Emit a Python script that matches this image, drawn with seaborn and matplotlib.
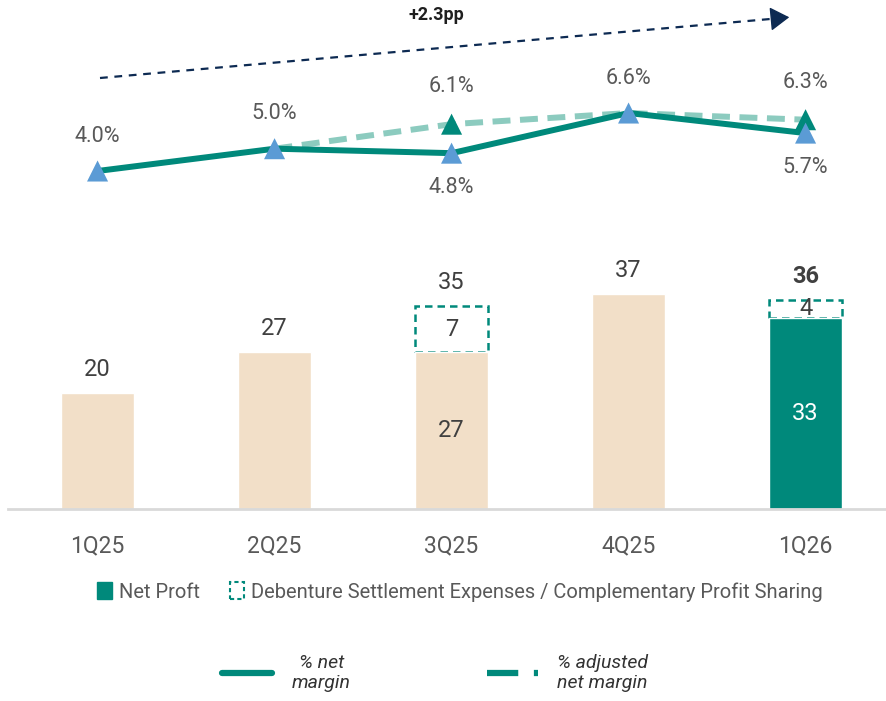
import matplotlib
matplotlib.use("Agg")
import matplotlib.pyplot as plt
import seaborn as sns
import numpy as np
import pandas as pd
from matplotlib.patches import Patch
from matplotlib.lines import Line2D

# ---------------- data ----------------
quarters = ["1Q25", "2Q25", "3Q25", "4Q25", "1Q26"]
net_profit = [20, 27, 27, 37, 33]
total_profit = [20, 27, 35, 37, 36]
adjustment = [np.nan, np.nan, 7, np.nan, 4]
net_margin = [4.0, 5.0, 4.8, 6.6, 5.7]
adj_margin = [np.nan, 5.0, 6.1, 6.6, 6.3]
growth_label = "+2.3pp"

# ---------------- style ----------------
TEAL = "#00897B"
LIGHT_TEAL = "#8CCBBF"
BEIGE = "#F2DFC8"
BLUE = "#5B9BD5"
NAVY = "#0D2A52"
GRAY = "#595959"
bar_colors = [BEIGE, BEIGE, BEIGE, BEIGE, TEAL]

sns.set_theme(style="white")
plt.rcParams["font.family"] = ["Roboto", "DejaVu Sans"]

W, H = 887, 701
fig = plt.figure(figsize=(W / 100, H / 100), dpi=100)


def fx(px):
    return px / W


def fy(py):
    return 1 - py / H


XLIM = (-0.506, 4.46)
BW = 0.41

# ---------------- bars ----------------
ax = fig.add_axes([fx(8), fy(509), fx(887) - fx(8), fy(260) - fy(509)])
df = pd.DataFrame({"q": quarters, "v": net_profit})
sns.barplot(data=df, x="q", y="v", hue="q", palette=bar_colors, width=BW,
            saturation=1, legend=False, ax=ax, zorder=2)
xs = np.arange(len(quarters))
for i in xs:
    if not np.isnan(adjustment[i]):
        ax.bar(i, total_profit[i] - net_profit[i], bottom=net_profit[i], width=BW,
               facecolor="white", edgecolor=TEAL, linewidth=1.8,
               linestyle=(0, (3, 2)), zorder=1)
        ax.text(i, (total_profit[i] + net_profit[i]) / 2, f"{adjustment[i]:.0f}",
                ha="center", va="center", fontsize=17, color="#404040", zorder=3)
        inner_color = "white" if bar_colors[i] == TEAL else "#404040"
        ax.text(i, net_profit[i] / 2, f"{net_profit[i]}", ha="center", va="center",
                fontsize=17, color=inner_color, zorder=3)
    bold = i == len(quarters) - 1
    ax.annotate(f"{total_profit[i]}", (i, total_profit[i]), xytext=(0, 17),
                textcoords="offset points", ha="center", va="center", fontsize=17,
                color="#404040", fontweight="bold" if bold else "normal")

ax.set_xlim(*XLIM)
ax.set_ylim(0, 42.93)
ax.set_yticks([])
ax.set_xlabel("")
ax.set_ylabel("")
for s in ["top", "left", "right"]:
    ax.spines[s].set_visible(False)
ax.spines["bottom"].set_color("#D9D9D9")
ax.spines["bottom"].set_linewidth(2)
ax.tick_params(axis="x", length=0, pad=18, labelsize=16.5, labelcolor=GRAY)
ax.set_facecolor("none")

# ---------------- margin lines ----------------
ax2 = fig.add_axes([fx(8), fy(230), fx(887) - fx(8), fy(0) - fy(230)])
ax2.set_xlim(*XLIM)
ax2.set_ylim(1.354, 11.668)
ax2.axis("off")

sns.lineplot(x=xs, y=adj_margin, color=LIGHT_TEAL, linewidth=4.3,
             linestyle=(0, (3, 1.6)), ax=ax2, zorder=2)
sns.lineplot(x=xs, y=net_margin, color=TEAL, linewidth=4.3, ax=ax2, zorder=3)
adj_idx = [2, 4]
sns.scatterplot(x=[xs[i] for i in adj_idx], y=[adj_margin[i] for i in adj_idx],
                marker="^", s=230, color=TEAL, edgecolor="none", ax=ax2, zorder=4)
sns.scatterplot(x=xs, y=net_margin, marker="^", s=230, color=BLUE,
                edgecolor="none", ax=ax2, zorder=5)

below = {2, 4}
for i in xs:
    off = -25 if i in below else 25
    ax2.annotate(f"{net_margin[i]:.1f}%", (i, net_margin[i]), xytext=(0, off),
                 textcoords="offset points", ha="center", va="center",
                 fontsize=15.5, color=GRAY)
for i in adj_idx:
    ax2.annotate(f"{adj_margin[i]:.1f}%", (i, adj_margin[i]), xytext=(0, 27),
                 textcoords="offset points", ha="center", va="center",
                 fontsize=15.5, color=GRAY)

# ---------------- trend arrow ----------------
fig.add_artist(Line2D([fx(100), fx(776)], [fy(78), fy(18.5)],
                      transform=fig.transFigure, color=NAVY, linewidth=1.6,
                      linestyle=(0, (3.5, 3))))
fig.add_artist(matplotlib.patches.FancyArrowPatch(
    (fx(775), fy(18.6)), (fx(792), fy(17)), transform=fig.transFigure,
    arrowstyle="-|>,head_length=8,head_width=5", color=NAVY, linewidth=1,
    mutation_scale=1.5))
fig.text(fx(436), fy(15), growth_label, ha="center", va="center",
         fontsize=13, fontweight="bold", color="#1F1F1F")

# ---------------- legends ----------------
leg1 = fig.legend(
    handles=[Patch(facecolor=TEAL, edgecolor=TEAL),
             Patch(facecolor="white", edgecolor=TEAL, linestyle=(0, (2, 1.5)), linewidth=1.5)],
    labels=["Net Proft", "Debenture Settlement Expenses / Complementary Profit Sharing"],
    loc="center", bbox_to_anchor=(fx(460), fy(592)), ncol=2, frameon=False,
    fontsize=14.5, handlelength=0.7, handleheight=0.9, handletextpad=0.35,
    columnspacing=1.5, labelcolor=GRAY)

leg2 = fig.legend(
    handles=[Line2D([], [], color=TEAL, linewidth=4.5),
             Line2D([], [], color=TEAL, linewidth=4.5, linestyle=(0, (5, 2.5)))],
    labels=["% net\nmargin", "% adjusted\nnet margin"],
    loc="center", bbox_to_anchor=(fx(435), fy(673)), ncol=2, frameon=False,
    prop={"size": 14, "style": "italic"}, handlelength=2.6, handletextpad=1.0,
    columnspacing=7.0, labelcolor="#333333")
leg2.get_texts()[0].set_multialignment("center")

fig.savefig("out.png", dpi=100)
